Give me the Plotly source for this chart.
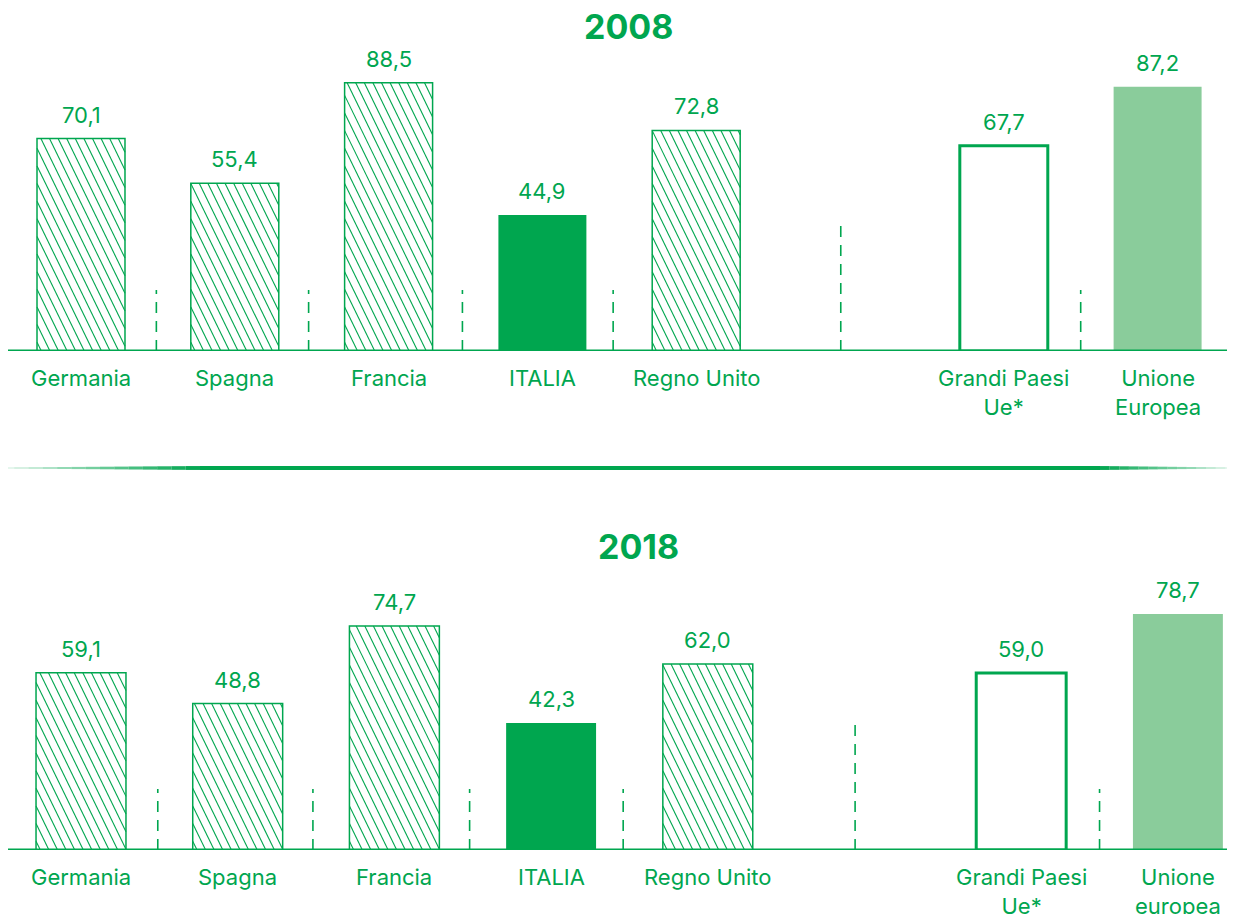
import numpy as np
import plotly.graph_objects as go

# ---------------- data ----------------
labels_2008 = ["Germania", "Spagna", "Francia", "ITALIA", "Regno Unito",
               "Grandi Paesi<br>Ue*", "Unione<br>Europea"]
labels_2018 = ["Germania", "Spagna", "Francia", "ITALIA", "Regno Unito",
               "Grandi Paesi<br>Ue*", "Unione<br>europea"]
values_2008 = [70.1, 55.4, 88.5, 44.9, 72.8, 67.7, 87.2]
values_2018 = [59.1, 48.8, 74.7, 42.3, 62.0, 59.0, 78.7]
kinds = ["hatch", "hatch", "hatch", "solid", "hatch", "outline", "light"]
slots = [0, 1, 2, 3, 4, 6, 7]
years = ["2008", "2018"]

# ---------------- style ----------------
W, H = 1235, 914
OFF = 8  # page body margin offset
GREEN = "#00A64F"
LIGHT = "#8ACC9B"
FONT = "Inter"

panels = [
    dict(labels=labels_2008, values=values_2008, first_px=81, step=153.8,
         base_px=351, top_px=50, scale=3.03,
         title_x=628, title_y=26, short_h=20.1, tall_h=42.6, bw=0.572),
    dict(labels=labels_2018, values=values_2018, first_px=81, step=156.7,
         base_px=850, top_px=570, scale=3.0,
         title_x=638, title_y=546, short_h=20.3, tall_h=43.3, bw=0.574),
]

fig = go.Figure()
annotations = []
shapes = []


def hatch_lines(xc, bw, val, pxX, pxY, spacing=8.6, slope=2.05):
    w = bw * pxX
    h = val * pxY
    left = xc - bw / 2
    xs, ys = [], []
    k = spacing * slope * 0.5
    while k < h + slope * w:
        u0 = max(0.0, (k - h) / slope)
        u1 = min(w, k / slope)
        if u1 > u0:
            v0 = k - slope * u0
            v1 = k - slope * u1
            xs += [left + u0 / pxX, left + u1 / pxX, None]
            ys += [v0 / pxY, v1 / pxY, None]
        k += spacing * slope
    return xs, ys


for pi, p in enumerate(panels):
    sfx = "" if pi == 0 else "2"
    xa, ya = "x" + sfx, "y" + sfx
    pxX = p["step"]
    x0px = p["first_px"] - OFF
    xrange = [-x0px / pxX, (W - x0px) / pxX]
    base = p["base_px"] - OFF
    top = p["top_px"] - OFF
    pxY = p["scale"]
    ymax = (base - top) / pxY
    d0 = (H - base) / H
    d1 = (H - top) / H
    fig.layout["xaxis" + sfx] = dict(domain=[0, 1], range=xrange, visible=False,
                                     anchor=ya, fixedrange=True)
    fig.layout["yaxis" + sfx] = dict(domain=[d0, d1], range=[0, ymax], visible=False,
                                     anchor=xa, fixedrange=True)

    for lab, val, kind, s in zip(p["labels"], p["values"], kinds, slots):
        if kind == "solid":
            fill, lc, lw = GREEN, GREEN, 0
        elif kind == "light":
            fill, lc, lw = LIGHT, LIGHT, 0
        elif kind == "outline":
            fill, lc, lw = "white", GREEN, 3
        else:
            fill, lc, lw = "white", GREEN, 1.5
        fig.add_trace(go.Bar(x=[s], y=[val], width=p["bw"], xaxis=xa, yaxis=ya,
                             marker=dict(color=fill, line=dict(color=lc, width=lw)),
                             showlegend=False, hoverinfo="skip"))
        if kind == "hatch":
            hx, hy = hatch_lines(s, p["bw"], val, pxX, pxY)
            fig.add_trace(go.Scatter(x=hx, y=hy, mode="lines", xaxis=xa, yaxis=ya,
                                     line=dict(color=GREEN, width=1.1),
                                     showlegend=False, hoverinfo="skip", cliponaxis=False))
        annotations.append(dict(x=s, y=val, xref=xa, yref=ya,
                                text=f"{val:.1f}".replace(".", ","),
                                showarrow=False, yanchor="bottom", yshift=9,
                                font=dict(family=FONT, size=22, color=GREEN)))
        annotations.append(dict(x=s, y=0, xref=xa, yref=ya, text=lab,
                                showarrow=False, yanchor="top", yshift=-12,
                                font=dict(family=FONT, size=22, color=GREEN)))

    seps = [(0.49, p["short_h"]), (1.48, p["short_h"]), (2.48, p["short_h"]),
            (3.46, p["short_h"]), (4.94, p["tall_h"]), (6.5, p["short_h"])]
    for sx, sh in seps:
        shapes.append(dict(type="line", xref=xa, yref=ya, x0=sx, x1=sx, y0=0, y1=sh,
                           line=dict(color=GREEN, width=1.6, dash="11px,8px"), layer="below"))
    shapes.append(dict(type="line", xref="paper", yref=ya, x0=0, x1=1, y0=0, y1=0,
                       line=dict(color=GREEN, width=3), layer="above"))
    annotations.append(dict(x=(p["title_x"] - OFF) / W, y=1 - (p["title_y"] - OFF) / H,
                            xref="paper", yref="paper",
                            text=f"<b>{years[pi]}</b>", showarrow=False, yanchor="middle",
                            font=dict(family=FONT, size=34, color=GREEN)))

# tapered separator line between panels
sep_y = 1 - (468 - OFF) / H
L0, L1, R0, R1 = 0 - OFF, 200 - OFF, 1100 - OFF, 1235 - OFF
shapes.append(dict(type="line", xref="paper", yref="paper", x0=L1 / W, x1=R0 / W,
                   y0=sep_y, y1=sep_y, line=dict(color=GREEN, width=4)))
nseg = 14
for i in range(nseg):
    f = (i + 0.5) / nseg
    a0 = L0 + (L1 - L0) * i / nseg
    a1 = L0 + (L1 - L0) * (i + 1) / nseg
    shapes.append(dict(type="line", xref="paper", yref="paper", x0=max(a0, 0) / W, x1=max(a1, 0) / W,
                       y0=sep_y, y1=sep_y, opacity=0.15 + 0.85 * f,
                       line=dict(color=GREEN, width=1 + 3 * f)))
    b0 = R0 + (R1 - R0) * i / nseg
    b1 = R0 + (R1 - R0) * (i + 1) / nseg
    shapes.append(dict(type="line", xref="paper", yref="paper", x0=b0 / W, x1=b1 / W,
                       y0=sep_y, y1=sep_y, opacity=1 - 0.85 * f,
                       line=dict(color=GREEN, width=4 - 3 * f)))

fig.update_layout(width=W, height=H, margin=dict(l=0, r=0, t=0, b=0),
                  paper_bgcolor="white", plot_bgcolor="white",
                  barmode="overlay", annotations=annotations, shapes=shapes,
                  font=dict(family=FONT, color=GREEN))

fig.write_html("out.html")
